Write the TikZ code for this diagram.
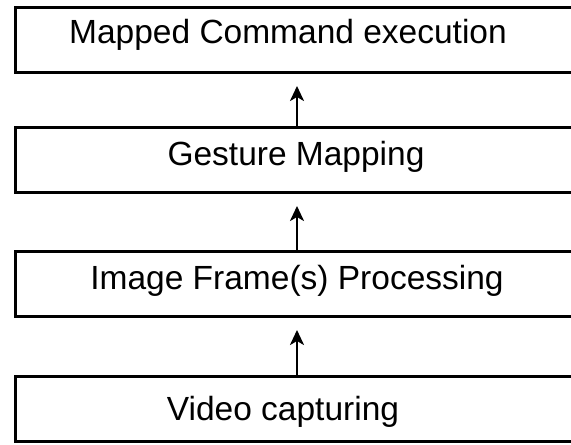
\documentclass[tikz,border=0pt]{standalone}
\usepackage{fontspec}
\setmainfont{Liberation Sans}
\usetikzlibrary{arrows.meta}

\begin{document}
\begin{tikzpicture}[x=1pt,y=1pt,
  stage/.style={draw=black, line width=3pt, rectangle, anchor=north west,
    minimum width=570pt, minimum height=65pt, inner sep=0pt, outer sep=0pt},
  caption/.style={anchor=base, inner sep=0pt, font=\fontsize{33.5}{40}\selectfont},
  flow/.style={line width=2.5pt, shorten >=13pt,
    -{Stealth[length=15pt, width=14pt, inset=4pt]}}]
  \clip (0,0) rectangle (571,445);
  \fill[white] (0,0) rectangle (571,445);

  % four stacked stages, open past the right edge
  \node[stage] (b1) at (15,437) {};
  \node[stage] (b2) at (15,317) {};
  \node[stage] (b3) at (15,193) {};
  \node[stage] (b4) at (15,68) {};

  \node[caption] (t1) at (288,401) {Mapped Command execution};
  \node[caption] (t2) at (296,279) {Gesture Mapping};
  \node[caption] (t3) at (297,155) {Image Frame(s) Processing};
  \node[caption] (t4) at (283,24) {Video capturing};

  % upward flow between the stages
  \coordinate (ax) at (297,0);
  \draw[flow] (b2.north -| ax) -- (b1.south -| ax);
  \draw[flow] (b3.north -| ax) -- (b2.south -| ax);
  \draw[flow] (b4.north -| ax) -- (b3.south -| ax);
\end{tikzpicture}
\end{document}
